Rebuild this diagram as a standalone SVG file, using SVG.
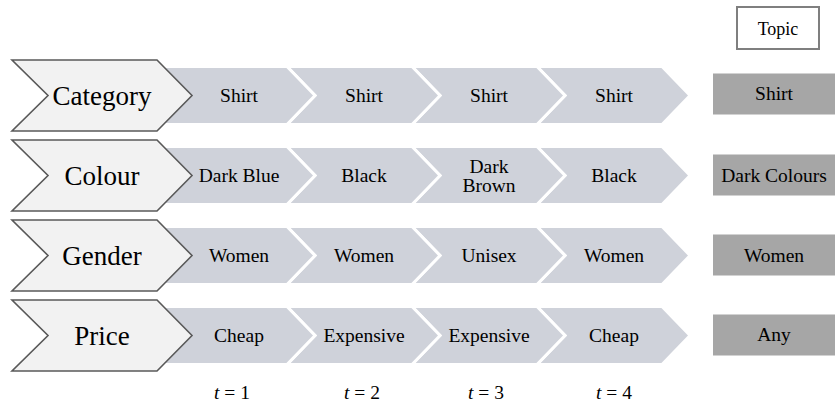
<svg xmlns="http://www.w3.org/2000/svg" width="835" height="407" viewBox="0 0 835 407">
<style>
.lab{fill:#f2f2f2;stroke:#595959;stroke-width:1.6;stroke-linejoin:miter}
.chev{fill:#cfd2da;stroke:#ffffff;stroke-width:3;stroke-linejoin:miter}
.topic{fill:#a6a6a6}
text{font-family:"Liberation Serif","Times New Roman",serif;fill:#000;text-anchor:middle}
.big{font-size:27px}
.sm{font-size:19.5px}
.tl{font-size:19.5px}
</style>
<defs>
<polygon id="gchev" points="0,-29 125,-29 153,0 125,29 0,29 28,0"/>
<polygon id="lchev" points="12,-35.5 157,-35.5 192,0 157,35.5 12,35.5 48,0"/>
</defs>
<rect width="835" height="407" fill="#fff"/>
<g id="topic-header">
<rect x="737" y="7" width="82" height="42" fill="#fff" stroke="#7f7f7f" stroke-width="2"/>
<text x="778" y="35" style="font-size:18px">Topic</text>
</g>
<g id="row-category" transform="translate(0,95.5)">
<use href="#gchev" class="chev" x="537"/>
<use href="#gchev" class="chev" x="412"/>
<use href="#gchev" class="chev" x="287"/>
<use href="#gchev" class="chev" x="162"/>
<use href="#lchev" class="lab"/>
<text class="big" x="102" y="9.5">Category</text>
<text class="sm" x="239" y="6.5">Shirt</text>
<text class="sm" x="364" y="6.5">Shirt</text>
<text class="sm" x="489" y="6.5">Shirt</text>
<text class="sm" x="614" y="6.5">Shirt</text>
<rect class="topic" x="713" y="-22" width="122" height="41"/>
<text class="sm" x="774" y="4.5">Shirt</text>
</g>
<g id="row-colour" transform="translate(0,175.5)">
<use href="#gchev" class="chev" x="537"/>
<use href="#gchev" class="chev" x="412"/>
<use href="#gchev" class="chev" x="287"/>
<use href="#gchev" class="chev" x="162"/>
<use href="#lchev" class="lab"/>
<text class="big" x="102" y="9.5">Colour</text>
<text class="sm" x="239" y="6.5">Dark Blue</text>
<text class="sm" x="364" y="6.5">Black</text>
<text class="sm" x="489" y="-3">Dark</text>
<text class="sm" x="489" y="16">Brown</text>
<text class="sm" x="614" y="6.5">Black</text>
<rect class="topic" x="713" y="-21" width="122" height="41"/>
<text class="sm" x="774" y="6">Dark Colours</text>
</g>
<g id="row-gender" transform="translate(0,255.5)">
<use href="#gchev" class="chev" x="537"/>
<use href="#gchev" class="chev" x="412"/>
<use href="#gchev" class="chev" x="287"/>
<use href="#gchev" class="chev" x="162"/>
<use href="#lchev" class="lab"/>
<text class="big" x="102" y="9.5">Gender</text>
<text class="sm" x="239" y="6.5">Women</text>
<text class="sm" x="364" y="6.5">Women</text>
<text class="sm" x="489" y="6.5">Unisex</text>
<text class="sm" x="614" y="6.5">Women</text>
<rect class="topic" x="713" y="-21" width="122" height="41"/>
<text class="sm" x="774" y="6">Women</text>
</g>
<g id="row-price" transform="translate(0,335.5)">
<use href="#gchev" class="chev" x="537"/>
<use href="#gchev" class="chev" x="412"/>
<use href="#gchev" class="chev" x="287"/>
<use href="#gchev" class="chev" x="162"/>
<use href="#lchev" class="lab"/>
<text class="big" x="102" y="9.5">Price</text>
<text class="sm" x="239" y="6.5">Cheap</text>
<text class="sm" x="364" y="6.5">Expensive</text>
<text class="sm" x="489" y="6.5">Expensive</text>
<text class="sm" x="614" y="6.5">Cheap</text>
<rect class="topic" x="713" y="-21" width="122" height="41"/>
<text class="sm" x="774" y="5.5">Any</text>
</g>
<g id="time-labels">
<text class="tl" x="232" y="399"><tspan font-style="italic">t</tspan> = 1</text>
<text class="tl" x="362" y="399"><tspan font-style="italic">t</tspan> = 2</text>
<text class="tl" x="486" y="399"><tspan font-style="italic">t</tspan> = 3</text>
<text class="tl" x="614" y="399"><tspan font-style="italic">t</tspan> = 4</text>
</g>
<g id="connectors"/>
</svg>
